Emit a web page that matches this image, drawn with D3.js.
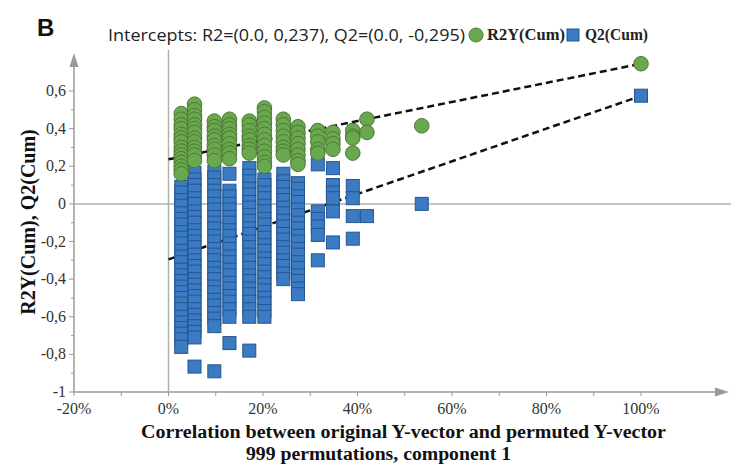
<!DOCTYPE html>
<html>
<head>
<meta charset="utf-8">
<script src="https://cdn.jsdelivr.net/npm/d3@7"></script>
<style>
  body { margin: 0; background: #fff; }
  svg { display: block; }
</style>
</head>
<body>
<div id="chart"></div>
<script>
// permutation correlation (%) for each column of points
var corrPct = [2.7, 5.5, 9.7, 12.9, 17.1, 20.3, 24.3, 27.4, 31.6, 34.8, 39.0, 42.0, 53.6, 100];

// R2Y(Cum) values, one list per column
var r2Cols = [
  [0.48, 0.45, 0.42, 0.40, 0.37, 0.35, 0.33, 0.30, 0.28, 0.26, 0.24, 0.22, 0.20, 0.18, 0.16],
  [0.53, 0.50, 0.47, 0.45, 0.42, 0.40, 0.38, 0.35, 0.33, 0.30, 0.28, 0.26, 0.23],
  [0.44, 0.41, 0.39, 0.36, 0.34, 0.31, 0.29, 0.26, 0.23],
  [0.45, 0.42, 0.40, 0.37, 0.35, 0.32, 0.29, 0.27, 0.24],
  [0.44, 0.42, 0.39, 0.36, 0.34, 0.31, 0.29, 0.27],
  [0.51, 0.49, 0.46, 0.43, 0.40, 0.37, 0.34, 0.31, 0.28, 0.25, 0.22, 0.20],
  [0.45, 0.42, 0.39, 0.36, 0.33, 0.30, 0.28, 0.26],
  [0.41, 0.38, 0.35, 0.32, 0.29, 0.26, 0.23, 0.21],
  [0.39, 0.36, 0.33, 0.29, 0.27],
  [0.38, 0.345, 0.32, 0.29],
  [0.39, 0.36, 0.35, 0.27],
  [0.45, 0.38],
  [0.415],
  [0.745]
];

// Q2(Cum) values, one list per column
var q2Cols = [
  [0.09, 0.06, 0.02, -0.01, -0.05, -0.08, -0.11, -0.15, -0.18, -0.21, -0.25, -0.28, -0.31, -0.35, -0.38, -0.41, -0.44, -0.47, -0.50, -0.53, -0.56, -0.60, -0.63, -0.66, -0.69, -0.72, -0.76],
  [0.165, 0.13, 0.10, 0.07, 0.03, 0.00, -0.04, -0.07, -0.10, -0.14, -0.17, -0.20, -0.23, -0.27, -0.30, -0.33, -0.36, -0.40, -0.43, -0.46, -0.49, -0.52, -0.56, -0.59, -0.62, -0.65, -0.68, -0.71, -0.865],
  [0.17, 0.14, 0.10, 0.07, 0.04, 0.00, -0.03, -0.07, -0.10, -0.13, -0.17, -0.20, -0.24, -0.27, -0.30, -0.34, -0.37, -0.40, -0.44, -0.47, -0.51, -0.54, -0.58, -0.61, -0.65, -0.89],
  [0.16, 0.07, 0.04, 0.00, -0.03, -0.07, -0.10, -0.14, -0.17, -0.21, -0.24, -0.28, -0.31, -0.35, -0.38, -0.42, -0.45, -0.49, -0.52, -0.56, -0.60, -0.74],
  [0.19, 0.15, 0.12, 0.08, 0.05, 0.01, -0.02, -0.06, -0.09, -0.13, -0.16, -0.20, -0.23, -0.27, -0.30, -0.34, -0.38, -0.41, -0.45, -0.48, -0.52, -0.56, -0.60, -0.78],
  [0.13, 0.10, 0.06, 0.03, -0.01, -0.04, -0.08, -0.11, -0.15, -0.18, -0.22, -0.25, -0.29, -0.32, -0.36, -0.39, -0.43, -0.46, -0.50, -0.53, -0.57, -0.60],
  [0.16, 0.12, 0.09, 0.05, 0.02, -0.02, -0.05, -0.09, -0.12, -0.16, -0.19, -0.23, -0.26, -0.30, -0.33, -0.37, -0.40],
  [0.11, 0.08, 0.04, 0.01, -0.03, -0.06, -0.10, -0.13, -0.17, -0.20, -0.24, -0.27, -0.31, -0.34, -0.38, -0.41, -0.45, -0.48],
  [0.21, -0.04, -0.08, -0.12, -0.165, -0.30],
  [0.19, 0.10, 0.06, 0.03, -0.04, -0.205],
  [0.095, 0.03, -0.065, -0.185],
  [-0.065],
  [0.00],
  [0.575]
];

// regression lines through the intercepts, at 0% and 100%
var lineX = [0, 100];
var lineR2 = [0.237, 0.745];
var lineQ2 = [-0.295, 0.574];

var yTicks = [-1, -0.8, -0.6, -0.4, -0.2, 0, 0.2, 0.4, 0.6];
var xTicks = [-20, 0, 20, 40, 60, 80, 100];

var W = 731, H = 468;
var green = "#6aa84f", greenDark = "#4c7a32";
var blue = "#3a7bc4", blueDark = "#25568f";
var axisCol = "#9a9a9a";
var serif = "'Liberation Serif', 'Times New Roman', serif";

var svg = d3.select("#chart").append("svg")
    .attr("width", W)
    .attr("height", H);

var x = d3.scaleLinear().domain([-20, 100]).range([74, 641]);
var y = d3.scaleLinear().domain([-1, 0.6]).range([392, 91]);

// y axis with arrow
svg.append("line")
    .attr("x1", x(-20)).attr("x2", x(-20))
    .attr("y1", y(-1)).attr("y2", 58)
    .attr("stroke", axisCol).attr("stroke-width", 1.5);
svg.append("path")
    .attr("d", "M" + x(-20) + ",53 l-4.5,14 l9,0 z")
    .attr("fill", axisCol);

// x axis with arrow
svg.append("line")
    .attr("x1", x(-20)).attr("x2", 724)
    .attr("y1", y(-1)).attr("y2", y(-1))
    .attr("stroke", axisCol).attr("stroke-width", 1.5);
svg.append("path")
    .attr("d", "M729," + y(-1) + " l-14,-4.5 l0,9 z")
    .attr("fill", axisCol);

// zero reference lines
svg.append("line")
    .attr("x1", x(-20)).attr("x2", W)
    .attr("y1", y(0)).attr("y2", y(0))
    .attr("stroke", "#b0b0b0").attr("stroke-width", 1.5);
svg.append("line")
    .attr("x1", x(0)).attr("x2", x(0))
    .attr("y1", 50).attr("y2", y(-1))
    .attr("stroke", "#b0b0b0").attr("stroke-width", 1.5);

// y ticks: major every 0.2, minor in between
d3.range(-1, 0.61, 0.1).forEach(function(v, i) {
  svg.append("line")
    .attr("x1", x(-20) - (i % 2 === 0 ? 5 : 3)).attr("x2", x(-20))
    .attr("y1", y(v)).attr("y2", y(v))
    .attr("stroke", axisCol).attr("stroke-width", 1);
});
svg.selectAll(".ylab")
  .data(yTicks)
  .enter().append("text")
    .attr("x", 66)
    .attr("y", function(d) { return y(d) + 5; })
    .attr("text-anchor", "end")
    .style("font-family", serif)
    .style("font-size", "16px")
    .style("fill", "#333")
    .text(function(d) { return d === 0 ? "0" : String(d).replace(".", ","); });

// x ticks: every 10%
d3.range(-20, 101, 10).forEach(function(v) {
  svg.append("line")
    .attr("x1", x(v)).attr("x2", x(v))
    .attr("y1", y(-1)).attr("y2", y(-1) + 4)
    .attr("stroke", axisCol).attr("stroke-width", 1);
});
svg.selectAll(".xlab")
  .data(xTicks)
  .enter().append("text")
    .attr("x", function(d) { return x(d); })
    .attr("y", 414)
    .attr("text-anchor", "middle")
    .style("font-family", serif)
    .style("font-size", "16px")
    .style("fill", "#333")
    .text(function(d) { return d + "%"; });

// dashed intercept lines (under the markers)
var line = d3.line()
    .x(function(d) { return x(d[0]); })
    .y(function(d) { return y(d[1]); });
[lineR2, lineQ2].forEach(function(vals) {
  svg.append("path")
    .attr("d", line(d3.zip(lineX, vals)))
    .attr("fill", "none")
    .attr("stroke", "#111")
    .attr("stroke-width", 2.5)
    .attr("stroke-dasharray", "7,4");
});

// flatten columns into points
var q2Pts = [], r2Pts = [];
corrPct.forEach(function(c, i) {
  q2Cols[i].forEach(function(v) { q2Pts.push({x: c, y: v}); });
  r2Cols[i].forEach(function(v) { r2Pts.push({x: c, y: v}); });
});

var sq = 13;
svg.selectAll(".q2")
  .data(q2Pts)
  .enter().append("rect")
    .attr("x", function(d) { return x(d.x) - sq / 2; })
    .attr("y", function(d) { return y(d.y) - sq / 2; })
    .attr("width", sq).attr("height", sq)
    .attr("fill", blue)
    .attr("stroke", blueDark).attr("stroke-width", 1);

svg.selectAll(".r2")
  .data(r2Pts)
  .enter().append("circle")
    .attr("cx", function(d) { return x(d.x); })
    .attr("cy", function(d) { return y(d.y); })
    .attr("r", 7.3)
    .attr("fill", green)
    .attr("stroke", greenDark).attr("stroke-width", 1);

// panel letter and title
svg.append("text")
    .attr("x", 37).attr("y", 36)
    .style("font-family", "'Liberation Sans', Arial, sans-serif")
    .style("font-weight", "bold")
    .style("font-size", "24px")
    .style("fill", "#111")
    .text("B");
svg.append("text")
    .attr("x", 108).attr("y", 41)
    .attr("textLength", 357)
    .attr("lengthAdjust", "spacingAndGlyphs")
    .style("font-family", "'Open Sans', sans-serif")
    .style("font-size", "16.5px")
    .style("fill", "#222")
    .text("Intercepts: R2=(0.0, 0,237), Q2=(0.0, -0,295)");

// legend
svg.append("circle")
    .attr("cx", 476).attr("cy", 35).attr("r", 7)
    .attr("fill", green).attr("stroke", greenDark);
svg.append("text")
    .attr("x", 487).attr("y", 40)
    .attr("textLength", 78)
    .attr("lengthAdjust", "spacingAndGlyphs")
    .style("font-family", serif)
    .style("font-weight", "bold")
    .style("font-size", "16px")
    .style("fill", "#222")
    .text("R2Y(Cum)");
svg.append("rect")
    .attr("x", 567).attr("y", 29).attr("width", 12).attr("height", 12)
    .attr("fill", blue).attr("stroke", blueDark);
svg.append("text")
    .attr("x", 585).attr("y", 40)
    .attr("textLength", 63)
    .attr("lengthAdjust", "spacingAndGlyphs")
    .style("font-family", serif)
    .style("font-weight", "bold")
    .style("font-size", "16px")
    .style("fill", "#222")
    .text("Q2(Cum)");

// axis titles
svg.append("text")
    .attr("transform", "translate(35,222) rotate(-90)")
    .attr("text-anchor", "middle")
    .style("font-family", serif)
    .style("font-weight", "bold")
    .style("font-size", "20px")
    .style("fill", "#111")
    .text("R2Y(Cum), Q2(Cum)");
svg.append("text")
    .attr("x", 141).attr("y", 438)
    .attr("textLength", 525)
    .attr("lengthAdjust", "spacingAndGlyphs")
    .style("font-family", serif)
    .style("font-weight", "bold")
    .style("font-size", "18.5px")
    .style("fill", "#111")
    .text("Correlation between original Y-vector and permuted Y-vector");
svg.append("text")
    .attr("x", 246).attr("y", 460)
    .attr("textLength", 265)
    .attr("lengthAdjust", "spacingAndGlyphs")
    .style("font-family", serif)
    .style("font-weight", "bold")
    .style("font-size", "18.5px")
    .style("fill", "#111")
    .text("999 permutations, component 1");
</script>
</body>
</html>
